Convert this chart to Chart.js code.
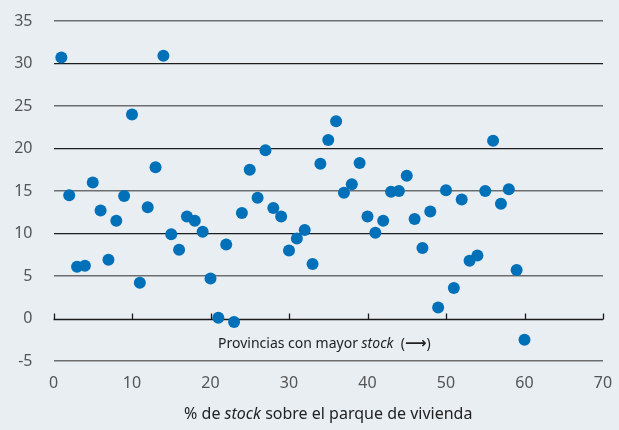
<!DOCTYPE html>
<html>
<head>
<meta charset="utf-8">
<script src="https://cdn.jsdelivr.net/npm/chart.js@4.4.1/dist/chart.umd.min.js"></script>
<style>
html,body{margin:0;padding:0;background:#e9eef3;}
#wrap{width:619px;height:430px;position:relative;}
</style>
</head>
<body>
<div id="wrap"><canvas id="c" width="619" height="430"></canvas></div>
<script>
const provinceRank = [1,2,3,4,5,6,7,8,9,10,11,12,13,14,15,16,17,18,19,20,21,22,23,24,25,26,27,28,29,30,31,32,33,34,35,36,37,38,39,40,41,42,43,44,45,46,47,48,49,50,51,52,53,54,55,56,57,58,59,60];
const values = [30.7,14.5,6.1,6.2,16.0,12.7,6.9,11.5,14.4,24.0,4.2,13.1,17.8,30.9,9.9,8.1,12.0,11.5,10.2,4.7,0.1,8.7,-0.4,12.4,17.5,14.2,19.8,13.0,12.0,8.0,9.4,10.4,6.4,18.2,21.0,23.2,14.8,15.8,18.3,12.0,10.1,11.5,14.9,15.0,16.8,11.7,8.3,12.6,1.3,15.1,3.6,14.0,6.8,7.4,15.0,20.9,13.5,15.2,5.7,-2.5];
const xTicks = [0,10,20,30,40,50,60,70];
const yTicks = [-5,0,5,10,15,20,25,30,35];
const xTitleParts = [["% de ", false], ["stock", true], [" sobre el parque de vivienda", false]];
const noteParts = [["Provincias con mayor ", false], ["stock", true], ["  (", false], ["\u27F6", false, "bold 15px 'DejaVu Sans'"], [")", false]];

const FONT = "'Noto Sans', 'Open Sans', sans-serif";

function fontFor(p, size) {
  return p[2] ? p[2] : ((p[1] ? 'italic ' : '') + size + 'px ' + FONT);
}
function drawParts(ctx, parts, cx, cy, size, color) {
  ctx.save();
  ctx.fillStyle = color;
  ctx.textBaseline = 'middle';
  ctx.textAlign = 'left';
  let total = 0;
  const widths = parts.map(p => {
    ctx.font = fontFor(p, size);
    const w = ctx.measureText(p[0]).width; total += w; return w;
  });
  let x = cx - total / 2;
  parts.forEach((p, i) => {
    ctx.font = fontFor(p, size);
    ctx.fillText(p[0], x, cy);
    x += widths[i];
  });
  ctx.restore();
}

const extras = {
  id: 'extras',
  beforeDatasetsDraw(chart) {
    const ctx = chart.ctx;
    const xs = chart.scales.x, ys = chart.scales.y;
    const y0 = Math.round(ys.getPixelForValue(0)) + 0.5;
    ctx.save();
    ctx.strokeStyle = '#1a1a1a';
    ctx.lineWidth = 1.3;
    ctx.beginPath();
    ctx.moveTo(xs.getPixelForValue(0), y0);
    ctx.lineTo(xs.getPixelForValue(70), y0);
    xTicks.forEach(v => {
      const px = Math.round(xs.getPixelForValue(v)) + 0.5;
      ctx.moveTo(px, y0);
      ctx.lineTo(px, y0 - 6);
    });
    ctx.stroke();
    ctx.restore();
    drawParts(ctx, noteParts, xs.getPixelForValue(34.5), ys.getPixelForValue(-3), 14, '#222');
  },
  afterDraw(chart) {
    drawParts(chart.ctx, xTitleParts, chart.scales.x.getPixelForValue(35), 414, 16, '#222');
  }
};

new Chart(document.getElementById('c'), {
  type: 'scatter',
  data: {
    datasets: [{
      data: provinceRank.map((r, i) => ({x: r, y: values[i]})),
      backgroundColor: '#0070b8',
      borderColor: '#0070b8',
      pointRadius: 6,
      pointHoverRadius: 6,
      borderWidth: 0
    }]
  },
  options: {
    responsive: false,
    animation: false,
    devicePixelRatio: 1,
    layout: {padding: {top: 21, right: 16, left: 0, bottom: 0}},
    plugins: {legend: {display: false}, tooltip: {enabled: false}},
    scales: {
      x: {
        type: 'linear', min: 0, max: 70,
        afterBuildTicks: s => { s.ticks = xTicks.map(v => ({value: v})); },
        grid: {display: false, drawTicks: false},
        border: {display: false},
        ticks: {color: '#555', font: {family: FONT, size: 16}, padding: 13},
        afterFit: s => { s.height = 69; s.paddingLeft = 0; s.paddingRight = 0; }
      },
      y: {
        type: 'linear', min: -5, max: 35,
        afterBuildTicks: s => { s.ticks = yTicks.map(v => ({value: v})); },
        grid: {
          drawTicks: false,
          color: c => (c.tick && (c.tick.value === 0) ? 'rgba(0,0,0,0)' : ((c.tick && c.tick.value % 10 === 0) ? '#1e1e1e' : '#6e6e6e')),
          lineWidth: c => ((c.tick && c.tick.value % 10 === 0) ? 1.2 : 1.6)
        },
        border: {display: false},
        ticks: {color: '#555', font: {family: FONT, size: 16}, padding: 21},
        afterFit: s => { s.width = 53.5; s.paddingTop = 0; s.paddingBottom = 0; }
      }
    }
  },
  plugins: [extras]
});
</script>
</body>
</html>
